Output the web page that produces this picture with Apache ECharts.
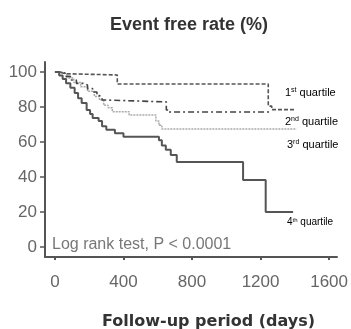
<!DOCTYPE html>
<html><head><meta charset="utf-8">
<script src="https://cdn.jsdelivr.net/npm/echarts@6/dist/echarts.min.js"></script>
<style>html,body{margin:0;padding:0;background:#fff}#c{width:351px;height:329px}</style>
</head><body><div id="c"></div>
<script>
const xTicks = [0, 400, 800, 1200, 1600];
const yTicks = [0, 20, 40, 60, 80, 100];
const q1 = [[0,100],[25,99],[60,98.3],[364,93.1],[1245,80.5],[1265,78.5],[1395,78.5]];
const q2 = [[0,100],[30,99.4],[58,97.5],[90,95.4],[125,93.5],[162,92.6],[190,90.5],[220,88.6],[245,86.5],[260,85.7],[275,84],[289,82.9],[650,78.3],[664,77.1],[1250,77.1]];
const q3 = [[0,100],[35,99],[70,96.5],[110,94],[150,91.5],[190,89],[230,86],[260,84],[285,81],[310,79.5],[335,77.3],[433,75.4],[589,72],[607,69.5],[624,67.4],[1410,67.4]];
const q4 = [[0,100],[25,98],[45,96],[65,93.5],[90,91],[115,88],[135,85],[156,82.3],[185,78.3],[205,76],[220,73.7],[255,72],[275,69],[300,67],[350,65],[400,63],[607,61],[624,58],[647,55.5],[676,52.5],[711,48.6],[1098,38.3],[1230,20],[1390,20]];

const chart = echarts.init(document.getElementById('c'));
const axisCol = '#555';
const ff = 'Liberation Sans, Arial';
chart.setOption({
  animation: false,
  title: { text: 'Event free rate (%)', left: 184, top: 11, textAlign: 'center',
    textStyle: { fontFamily: ff, fontSize: 18, fontWeight: 'bold', color: '#333' } },
  grid: { left: 45, right: 11, top: 62, bottom: 72 },
  xAxis: { type: 'value', min: -58, max: 1646,
    axisLine: { show: true, onZero: false, lineStyle: { color: axisCol, width: 2 } },
    axisTick: { show: true, customValues: xTicks, length: 3, lineStyle: { color: axisCol, width: 2 } },
    axisLabel: { customValues: xTicks, margin: 17, color: '#666', fontFamily: ff, fontSize: 17, formatter: v => String(v) },
    splitLine: { show: false } },
  yAxis: { type: 'value', min: -5.7, max: 105.7,
    axisLine: { show: true, onZero: false, lineStyle: { color: axisCol, width: 2 } },
    axisTick: { show: true, customValues: yTicks, length: 5, lineStyle: { color: axisCol, width: 1.5 } },
    axisLabel: { customValues: yTicks, margin: 8, color: '#666', fontFamily: ff, fontSize: 17, formatter: v => String(v) },
    splitLine: { show: false } },
  series: [
    { type: 'line', step: 'end', data: q3, symbol: 'none', lineStyle: { color: '#aaa', width: 1.5, type: [2, 1] }, z: 1 },
    { type: 'line', step: 'end', data: q2, symbol: 'none', lineStyle: { color: '#444', width: 1.6, type: [6, 3, 2, 3] }, z: 2 },
    { type: 'line', step: 'end', data: q1, symbol: 'none', lineStyle: { color: '#555', width: 1.6, type: [4, 2] }, z: 3 },
    { type: 'line', step: 'end', data: q4, symbol: 'none', lineStyle: { color: '#555', width: 2 }, z: 4 }
  ],
  graphic: [
    { type: 'text', left: 102, top: 314, style: { text: 'Follow-up period (days)', font: 'bold 16px DejaVu Sans', fill: '#333' } },
    { type: 'text', left: 52, top: 237, style: { text: 'Log rank test, P < 0.0001', font: '16px Liberation Sans, Arial', fill: '#777' } },
    { type: 'text', left: 285, top: 87, style: { text: '{n|1}{s|st}{n| quartile}', rich: { n: { fontSize: 11, fontFamily: ff, color: '#555' }, s: { fontSize: 7, color: '#555', padding: [0,0,5,0] } } } },
    { type: 'text', left: 285, top: 116, style: { text: '{n|2}{s|nd}{n| quartile}', rich: { n: { fontSize: 11, fontFamily: ff, color: '#555' }, s: { fontSize: 7, color: '#555', padding: [0,0,5,0] } } } },
    { type: 'text', left: 287, top: 139, style: { text: '{n|3}{s|rd}{n| quartile}', rich: { n: { fontSize: 11, fontFamily: ff, color: '#555' }, s: { fontSize: 7, color: '#555', padding: [0,0,5,0] } } } },
    { type: 'text', left: 287, top: 217, style: { text: '{n|4}{s|th}{n| quartile}', rich: { n: { fontSize: 10, fontFamily: ff, color: '#555' }, s: { fontSize: 6, color: '#555', padding: [0,0,4,0] } } } }
  ]
});
</script></body></html>
